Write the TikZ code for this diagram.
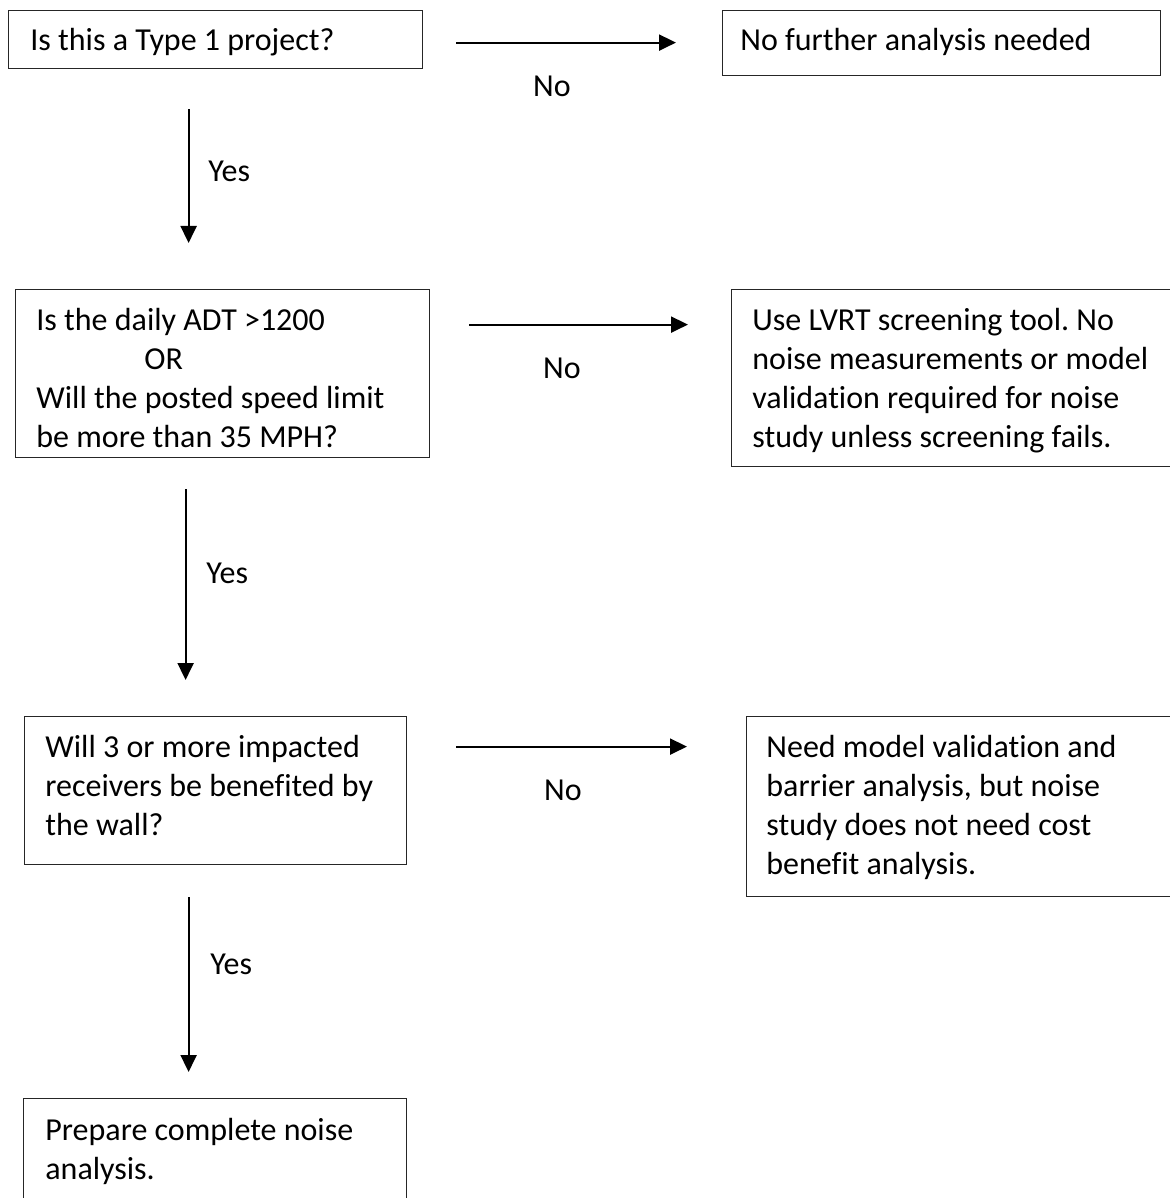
\documentclass[tikz,border=0pt]{standalone}
\usepackage{fontspec}
\setmainfont{Carlito}[Ligatures=NoCommon]
\usetikzlibrary{arrows.meta,calc}
\frenchspacing
\newcommand\natsp{\spaceskip=0pt\xspaceskip=0pt\relax}
\tikzset{
  box/.style={draw=black!85, line width=0.6pt, rectangle, inner sep=0pt, anchor=north west},
  txt/.style={anchor=base west, inner sep=0pt, text width=300pt, align=left,
              font=\fontsize{16}{19.5}\selectfont\frenchspacing},
  lbl/.style={inner sep=0pt, font=\fontsize{16}{19.5}\selectfont},
  arr/.style={line width=1pt, -{Triangle[width=8pt,length=8.5pt]}}
}
\begin{document}
\begin{tikzpicture}[x=0.5pt,y=-0.5pt]
\useasboundingbox (0,0) rectangle (1170,1198);
\clip (0,0) rectangle (1170,1198);
\fill[white] (0,0) rectangle (1170,1198);

% boxes
\node[box, minimum width=207pt, minimum height=29pt] (q1) at (8,10) {};
\node[box, minimum width=219pt, minimum height=32.5pt] (n1) at (722,10) {};
\node[box, minimum width=207pt, minimum height=84pt] (q2) at (15,289) {};
\node[box, minimum width=230pt, minimum height=88.5pt] (n2) at (731,289) {};
\node[box, minimum width=191pt, minimum height=74pt] (q3) at (24,716) {};
\node[box, minimum width=230pt, minimum height=90pt] (n3) at (746,716) {};
\node[box, minimum width=191.5pt, minimum height=60pt] (fin) at (23,1098) {};

% texts
\node[txt] (t1) at ([shift={(22,41)}]q1.north west) {\natsp Is this a Type 1 project?};
\node[txt] (t2) at ([shift={(18,41)}]n1.north west) {\natsp No further analysis needed};
\node[txt] (t3) at ([shift={(21,41)}]q2.north west) {\natsp Is the daily ADT >1200\\\hspace*{54pt}OR\\Will the posted speed limit\\be more than 35 MPH?};
\node[txt] (t4) at ([shift={(21,41)}]n2.north west) {\natsp Use LVRT screening tool. No\\noise measurements or model\\validation required for noise\\study unless screening fails.};
\node[txt] (t5) at ([shift={(21,41)}]q3.north west) {\natsp Will 3 or more impacted\\receivers be benefited by\\the wall?};
\node[txt] (t6) at ([shift={(20,41)}]n3.north west) {\natsp Need model validation and\\barrier analysis, but noise\\study does not need cost\\benefit analysis.};
\node[txt] (t7) at ([shift={(22,42)}]fin.north west) {\natsp Prepare complete noise\\analysis.};

% horizontal arrows
\coordinate (h1) at ([shift={(33,3)}]q1.east);
\draw[arr, shorten >=23pt] (h1) -- (h1 -| n1.west);
\coordinate (h2) at ([shift={(39,-49)}]q2.east);
\draw[arr, shorten >=21.5pt] (h2) -- (h2 -| n2.west);
\coordinate (h3) at ([shift={(49,-44)}]q3.east);
\draw[arr, shorten >=29.5pt] (h3) -- (h3 -| n3.west);

% vertical arrows
\coordinate (v1) at ([shift={(-27,40)}]q1.south);
\draw[arr, shorten >=23pt] (v1) -- (v1 |- q2.north);
\coordinate (v2) at ([shift={(-37,31)}]q2.south);
\draw[arr, shorten >=18pt] (v2) -- (v2 |- q3.north);
\coordinate (v3) at ([shift={(-27,32)}]q3.south);
\draw[arr, shorten >=13pt] (v3) -- (v3 |- fin.north);

% labels
\node[lbl] (no1) at (552,86) {No};
\node[lbl] (no2) at (562,368) {No};
\node[lbl] (no3) at (563,790) {No};
\node[lbl, anchor=west] (yes1) at (208,171) {Yes};
\node[lbl, anchor=west] (yes2) at (206,573) {Yes};
\node[lbl, anchor=west] (yes3) at (210,964) {Yes};
\end{tikzpicture}
\end{document}
